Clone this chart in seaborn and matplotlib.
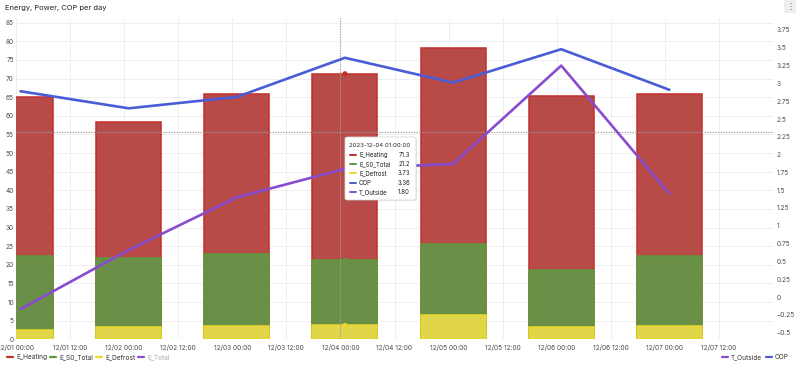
import numpy as np
import pandas as pd
import matplotlib
matplotlib.use("Agg")
import matplotlib.pyplot as plt
import seaborn as sns
from matplotlib.lines import Line2D
from matplotlib.patches import FancyBboxPatch

# ---------------- data ----------------
dates = ["2023-12-01 01:00", "2023-12-02 01:00", "2023-12-03 01:00", "2023-12-04 01:00",
         "2023-12-05 01:00", "2023-12-06 01:00", "2023-12-07 01:00"]
e_heating = [65.0, 58.3, 65.9, 71.3, 78.2, 65.3, 65.9]
e_s0_total = [22.3, 21.8, 23.0, 21.2, 25.7, 18.7, 22.3]
e_defrost = [2.6, 3.3, 3.7, 3.73, 6.4, 3.3, 3.7]
cop = [2.89, 2.65, 2.81, 3.36, 3.01, 3.48, 2.91]
t_outside = [-0.17, 0.66, 1.40, 1.80, 1.87, 3.25, 1.45]

left_ticks = list(range(0, 90, 5))
right_ticks = [-0.5, -0.25, 0, 0.25, 0.5, 0.75, 1, 1.25, 1.5, 1.75, 2, 2.25, 2.5, 2.75, 3, 3.25, 3.5, 3.75]
right_labels = ["\u22120.5", "\u22120.25", "0", "0.25", "0.5", "0.75", "1", "1.25", "1.5", "1.75",
                "2", "2.25", "2.5", "2.75", "3", "3.25", "3.5", "3.75"]

start = pd.Timestamp("2023-12-01 00:00")
x_days = ((pd.to_datetime(dates) - start) / pd.Timedelta(days=1)).to_numpy()
tick_times = pd.date_range(start, periods=14, freq="12h")
tick_pos = ((tick_times - start) / pd.Timedelta(days=1)).to_numpy()
tick_labels = [t.strftime("%m/%d %H:%M") for t in tick_times]

df = pd.DataFrame({"x": x_days, "E_Heating": e_heating, "E_S0_Total": e_s0_total,
                   "E_Defrost": e_defrost, "COP": cop, "T_Outside": t_outside})

# ---------------- style ----------------
sns.set_theme(style="white")
plt.rcParams["font.family"] = ["Inter", "DejaVu Sans"]

RED_F, RED_E = "#b84b47", "#c22f2b"
GRN_F, GRN_E = "#6a8f46", "#5f9a3a"
YEL_F, YEL_E = "#e1d54a", "#ecd82c"
BLUE = "#4a5cd6"
PURP = "#8a4ccf"
TXT = "#4a4a4a"

W, H = 800, 366
fig = plt.figure(figsize=(W / 100, H / 100), dpi=100)
fig.patch.set_facecolor("white")

L, R, T, B = 16, 773, 18, 339.3
ax = fig.add_axes([L / W, 1 - B / H, (R - L) / W, (B - T) / H])
ax2 = ax.twinx()


def fx(px):
    return px / W


def fy(py):
    return 1 - py / H


# bars (drawn back to front)
for col, fc, ec in [("E_Heating", RED_F, RED_E), ("E_S0_Total", GRN_F, GRN_E),
                    ("E_Defrost", YEL_F, YEL_E)]:
    sns.barplot(data=df, x="x", y=col, native_scale=True, width=0.6, color=fc,
                saturation=1, edgecolor=ec, linewidth=1.1, errorbar=None, ax=ax)

# lines on right axis
sns.lineplot(data=df, x="x", y="COP", color=BLUE, linewidth=1.9, ax=ax2)
sns.lineplot(data=df, x="x", y="T_Outside", color=PURP, linewidth=1.9, ax=ax2)

# hover markers
hx = x_days[3]
ax.scatter([hx, hx, hx], [e_heating[3], e_s0_total[3], e_defrost[3]],
           s=7, c=[RED_E, GRN_E, YEL_E], zorder=5)

ax.set_xlim(0, 7.0)
ax.set_ylim(0, (B - T) / 3.725)
ax2.set_ylim((297 - B) / 71.2, (297 - T) / 71.2)

ax.set_xticks(tick_pos)
ax.set_xticklabels(tick_labels)
ax.set_yticks(left_ticks)
ax.set_yticklabels([str(v) for v in left_ticks])
ax2.set_yticks(right_ticks)
ax2.set_yticklabels(right_labels)

for a in (ax, ax2):
    a.set_xlabel("")
    a.set_ylabel("")
    for s in a.spines.values():
        s.set_visible(False)
ax.tick_params(axis="both", length=0, labelsize=4.7, labelcolor=TXT)
ax.tick_params(axis="y", pad=1.5)
ax.tick_params(axis="x", pad=3.5)
ax2.tick_params(axis="y", length=0, labelsize=4.7, labelcolor=TXT, pad=2.5)

ax.grid(True, color="#ececec", linewidth=0.6)
ax.set_axisbelow(True)
ax2.grid(False)

# crosshair
ax2.axvline(2.995, color="#a0a0a0", linestyle=(0, (1.2, 1.2)), linewidth=0.8, zorder=1)
ax2.axhline((297 - 132) / 71.2, color="#a0a0a0", linestyle=(0, (1.2, 1.2)), linewidth=0.8, zorder=1)

# title
fig.text(fx(5), fy(8), "Energy, Power, COP per day", fontsize=5.4, color="#222222",
         ha="left", va="center")
fig.text(fx(790), fy(6), "\u22ee", fontsize=6, color="#666666", ha="center", va="center",
         bbox=dict(boxstyle="square,pad=0.25", facecolor="#eeeeee", edgecolor="none"))


# legends
def legend_item(x0, label, color, tcolor="#333333"):
    fig.add_artist(Line2D([fx(x0), fx(x0 + 6)], [fy(357), fy(357)], color=color,
                          linewidth=1.6, transform=fig.transFigure))
    fig.text(fx(x0 + 9), fy(357), label, fontsize=4.7, color=tcolor, ha="left", va="center")


legend_item(7, "E_Heating", RED_E)
legend_item(50, "E_S0_Total", GRN_E)
legend_item(96, "E_Defrost", YEL_E)
legend_item(138, "E_Total", PURP, tcolor="#aaaaaa")
legend_item(722, "T_Outside", PURP)
legend_item(766, "COP", BLUE)

# tooltip
bx0, by0, bx1, by1 = 345, 137, 416, 200
fig.add_artist(FancyBboxPatch((fx(bx0 + 1.2), fy(by1 + 1.2)), fx(bx1 - bx0), (by1 - by0) / H,
                              boxstyle="round,pad=0,rounding_size=0.004",
                              facecolor="#000000", alpha=0.08, edgecolor="none",
                              transform=fig.transFigure, zorder=19))
fig.add_artist(FancyBboxPatch((fx(bx0), fy(by1)), fx(bx1 - bx0), (by1 - by0) / H,
                              boxstyle="round,pad=0,rounding_size=0.004",
                              facecolor="white", edgecolor="#d8d8d8", linewidth=0.6,
                              transform=fig.transFigure, zorder=20))
fig.text(fx(349), fy(145.5), "2023-12-04 01:00:00", fontsize=4.35, color="#222222",
         ha="left", va="center", zorder=21)
rows = [("E_Heating", e_heating[3], "{:.1f}", RED_E),
        ("E_S0_Total", e_s0_total[3], "{:.1f}", GRN_E),
        ("E_Defrost", e_defrost[3], "{:.2f}", YEL_E),
        ("COP", cop[3], "{:.2f}", BLUE),
        ("T_Outside", t_outside[3], "{:.2f}", PURP)]
for i, (name, val, fmt, c) in enumerate(rows):
    yy = 155 + i * 9.2
    fig.add_artist(Line2D([fx(350), fx(356)], [fy(yy), fy(yy)], color=c, linewidth=1.4,
                          transform=fig.transFigure, zorder=21))
    fig.text(fx(359), fy(yy), name, fontsize=4.4, color="#222222", ha="left", va="center",
             zorder=21)
    fig.text(fx(410), fy(yy), fmt.format(val), fontsize=4.4, color="#222222", ha="right",
             va="center", zorder=21)

fig.savefig("out.png", dpi=100, facecolor="white")
